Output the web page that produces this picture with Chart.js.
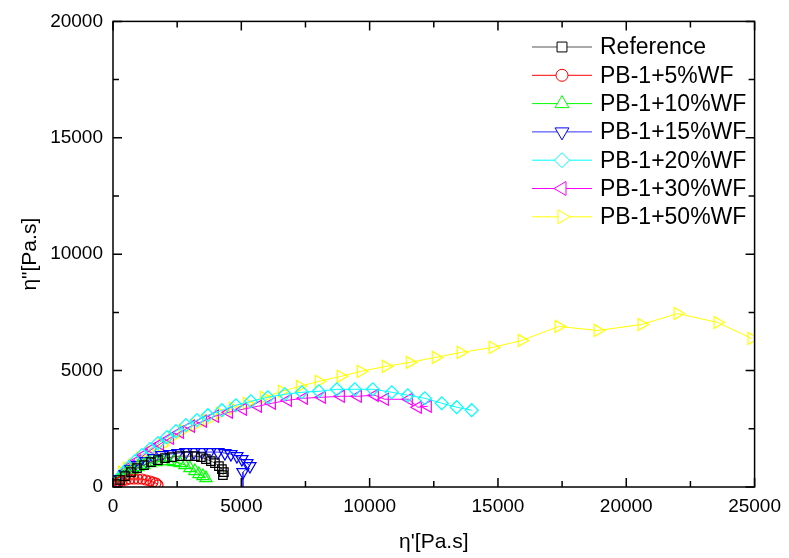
<!DOCTYPE html>
<html>
<head>
<meta charset="utf-8">
<script src="https://cdn.jsdelivr.net/npm/chart.js@4.4.0/dist/chart.umd.min.js"></script>
<style>
  html, body { margin: 0; padding: 0; background: #fff; }
  canvas { display: block; }
</style>
</head>
<body>
<canvas id="chart" width="789" height="558"></canvas>
<script>
// eta' (x) and eta'' (y) readings, Pa.s
const refX = [117, 273, 467, 701, 935, 1207, 1480, 1752, 2025, 2297, 2609, 2920, 3193, 3427, 3621, 3816, 3972, 4128, 4244, 4322, 4283];
const refY = [128, 300, 471, 642, 814, 942, 1071, 1156, 1242, 1285, 1328, 1328, 1328, 1285, 1199, 1114, 1028, 899, 771, 642, 514];

const wf5X = [39, 117, 234, 350, 506, 662, 818, 974, 1129, 1285, 1441, 1558, 1674, 1752];
const wf5Y = [43, 128, 214, 257, 300, 343, 343, 343, 343, 300, 257, 214, 171, 86];

const wf10X = [78, 195, 350, 545, 740, 974, 1207, 1441, 1674, 1908, 2142, 2375, 2609, 2804, 2998, 3193, 3349, 3505, 3621];
const wf10Y = [86, 257, 428, 600, 728, 857, 942, 1028, 1071, 1114, 1114, 1071, 1028, 942, 814, 685, 557, 471, 385];

const wf15X = [117, 273, 467, 701, 974, 1285, 1597, 1908, 2220, 2531, 2843, 3154, 3466, 3777, 4089, 4361, 4595, 4829, 5023, 5218, 5335, 5062, 5062];
const wf15Y = [128, 343, 557, 771, 942, 1114, 1242, 1371, 1413, 1456, 1499, 1499, 1499, 1499, 1499, 1456, 1413, 1328, 1199, 1028, 899, 642, -300];

const wf20X = [117, 273, 428, 623, 857, 1129, 1441, 1752, 2103, 2453, 2843, 3271, 3699, 4244, 4790, 5374, 6036, 6698, 7360, 8022, 8723, 9423, 10124, 10864, 11487, 12149, 12811, 13395, 13979];
const wf20Y = [214, 428, 642, 857, 1114, 1371, 1628, 1885, 2141, 2398, 2655, 2870, 3084, 3298, 3512, 3683, 3855, 3983, 4069, 4112, 4197, 4197, 4197, 4069, 3940, 3812, 3598, 3427, 3298];

const wf30X = [156, 312, 506, 701, 935, 1207, 1519, 1830, 2220, 2609, 3037, 3505, 3972, 4517, 5062, 5646, 6191, 6815, 7438, 8138, 8878, 9540, 10202, 10592, 11526, 11877, 12266];
const wf30Y = [214, 428, 685, 899, 1114, 1371, 1628, 1842, 2098, 2356, 2612, 2827, 3041, 3212, 3341, 3469, 3598, 3726, 3812, 3855, 3898, 3898, 3940, 3769, 3769, 3426, 3469];

const wf50X = [350, 545, 740, 1051, 1441, 1908, 2297, 2726, 3193, 3660, 4167, 4673, 5218, 5880, 6581, 7282, 8022, 8878, 9657, 10631, 11565, 12578, 13551, 14797, 15926, 17367, 18886, 20599, 22001, 23559, 24883];
const wf50Y = [642, 814, 942, 1242, 1499, 1799, 2141, 2441, 2655, 2870, 3169, 3384, 3598, 3855, 4112, 4326, 4540, 4754, 4968, 5182, 5354, 5568, 5782, 5996, 6296, 6896, 6724, 6981, 7452, 7067, 6382];

const seriesNames = ['Reference', 'PB-1+5%WF', 'PB-1+10%WF', 'PB-1+15%WF', 'PB-1+20%WF', 'PB-1+30%WF', 'PB-1+50%WF'];
const seriesX = [refX, wf5X, wf10X, wf15X, wf20X, wf30X, wf50X];
const seriesY = [refY, wf5Y, wf10Y, wf15Y, wf20Y, wf30Y, wf50Y];
const colors = ['#000000', '#ff0000', '#00ff00', '#0000ff', '#00ffff', '#ff00ff', '#ffff00'];
const lineColors = ['#555555', '#ff0000', '#00ff00', '#3333ff', '#00ffff', '#ff00ff', '#ffff00'];
const markers = ['rect', 'circle', 'triangle', 'triangle', 'rectRot', 'triangle', 'triangle'];
const rotations = [0, 0, 0, 180, 0, 270, 90];
const radii = [6, 5, 7, 7, 6.5, 7, 7];

const xTicks = [0, 5000, 10000, 15000, 20000, 25000];
const yTicks = [0, 5000, 10000, 15000, 20000];

const datasets = seriesNames.map((name, i) => ({
    label: name,
    data: seriesX[i].map((x, j) => ({ x: x, y: seriesY[i][j] })),
    showLine: true,
    borderColor: lineColors[i],
    borderWidth: 1,
    pointStyle: markers[i],
    rotation: rotations[i],
    pointRadius: radii[i],
    pointBorderColor: colors[i],
    pointBackgroundColor: 'rgba(0,0,0,0)',
    pointBorderWidth: 1.2,
    clip: i === 3 ? 0 : undefined
}));

// frame with inward ticks on all four sides, plus the legend
const framePlugin = {
    id: 'frame',
    afterDraw(chart) {
        const ctx = chart.ctx;
        const a = chart.chartArea;
        const xs = chart.scales.x;
        const ys = chart.scales.y;
        ctx.save();
        ctx.strokeStyle = '#000';
        ctx.lineWidth = 1.5;
        ctx.strokeRect(a.left, a.top, a.right - a.left, a.bottom - a.top);
        for (let v = 0; v <= 25000; v += 2500) {
            const px = xs.getPixelForValue(v);
            const len = v % 5000 === 0 ? 9 : 6;
            ctx.beginPath();
            ctx.moveTo(px, a.bottom); ctx.lineTo(px, a.bottom - len);
            ctx.moveTo(px, a.top); ctx.lineTo(px, a.top + len);
            ctx.stroke();
        }
        for (let v = 0; v <= 20000; v += 2500) {
            const py = ys.getPixelForValue(v);
            const len = v % 5000 === 0 ? 9 : 6;
            ctx.beginPath();
            ctx.moveTo(a.left, py); ctx.lineTo(a.left + len, py);
            ctx.moveTo(a.right, py); ctx.lineTo(a.right - len, py);
            ctx.stroke();
        }

        // legend
        const lx0 = 532, lx1 = 592, mx = 562, tx = 600;
        ctx.font = '23px "Liberation Sans", Arial, sans-serif';
        ctx.textBaseline = 'middle';
        ctx.textAlign = 'left';
        chart.data.datasets.forEach((ds, i) => {
            const y = 47 + i * 28.3;
            ctx.strokeStyle = lineColors[i];
            ctx.lineWidth = 1;
            ctx.beginPath();
            ctx.moveTo(lx0, y); ctx.lineTo(lx1, y);
            ctx.stroke();
            ctx.strokeStyle = colors[i];
            ctx.fillStyle = '#fff';
            Chart.helpers.drawPoint(ctx, {
                pointStyle: markers[i], rotation: rotations[i], radius: radii[i] + 1, borderWidth: 1.3
            }, mx, y);
            ctx.fillStyle = '#000';
            ctx.fillText(ds.label, tx, y + 1);
        });
        ctx.restore();
    }
};

const tickFont = { family: '"Liberation Sans", Arial, sans-serif', size: 19 };
const titleFont = { family: '"Liberation Sans", Arial, sans-serif', size: 21 };

new Chart(document.getElementById('chart'), {
    type: 'scatter',
    data: { datasets: datasets },
    options: {
        responsive: false,
        animation: false,
        layout: { padding: { left: 18, right: 34, top: 20, bottom: 3 } },
        plugins: { legend: { display: false }, tooltip: { enabled: false } },
        scales: {
            x: {
                type: 'linear',
                min: 0, max: 25000,
                afterBuildTicks: s => { s.ticks = xTicks.map(v => ({ value: v })); },
                afterFit: s => { s.height = 68; },
                grid: { display: false, drawTicks: false },
                border: { display: false },
                ticks: { color: '#000', font: tickFont, padding: 8, maxRotation: 0, callback: v => String(v) },
                title: { display: true, text: "η'[Pa.s]", color: '#000', font: titleFont, padding: 0 }
            },
            y: {
                type: 'linear',
                min: 0, max: 20000,
                afterBuildTicks: s => { s.ticks = yTicks.map(v => ({ value: v })); },
                afterFit: s => { s.width = 95; },
                grid: { display: false, drawTicks: false },
                border: { display: false },
                ticks: { color: '#000', font: tickFont, padding: 10, callback: v => String(v) },
                title: { display: true, text: 'η"[Pa.s]', color: '#000', font: titleFont, padding: 0 }
            }
        }
    },
    plugins: [framePlugin]
});
</script>
</body>
</html>
